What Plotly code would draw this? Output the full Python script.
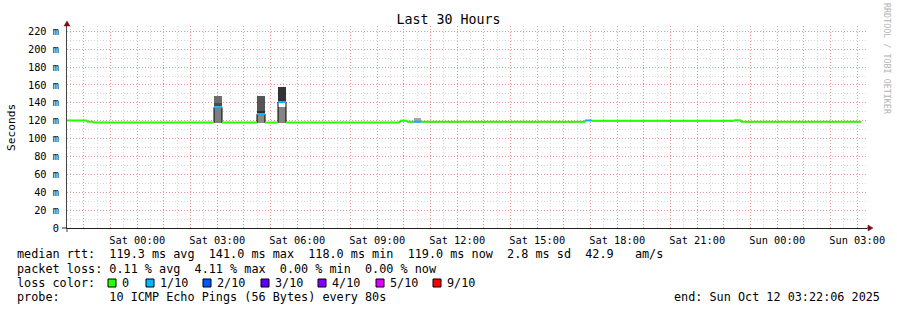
import plotly.graph_objects as go
import pandas as pd

# ---------------- data ----------------
seg_start = ["2025-10-10 21:22:06", "2025-10-10 22:07:06", "2025-10-10 22:20:36",
             "2025-10-11 02:52:51", "2025-10-11 03:10:51", "2025-10-11 04:29:36",
             "2025-10-11 04:47:36", "2025-10-11 05:16:51", "2025-10-11 05:34:51",
             "2025-10-11 09:51:21", "2025-10-11 10:07:06", "2025-10-11 10:22:51",
             "2025-10-11 10:38:36", "2025-10-11 16:47:36", "2025-10-11 17:03:21",
             "2025-10-11 22:22:51", "2025-10-11 22:38:36"]
last_sample_end = "2025-10-12 03:08:36"
median_ms = [120.3, 119.0, 118.0, 135.1, 118.0, 127.5, 118.0, 141.0, 118.0,
             120.1, 118.9, 118.9, 118.9, 120.3, 120.0, 120.4, 119.0]
loss_tenths = [0, 0, 0, 1, 0, 1, 0, 1, 0, 0, 0, 1, 0, 1, 0, 0, 0]

smoke_start = ["2025-10-11 02:52:51", "2025-10-11 02:52:51", "2025-10-11 02:52:51",
               "2025-10-11 04:29:36", "2025-10-11 04:29:36", "2025-10-11 04:29:36",
               "2025-10-11 05:16:51", "2025-10-11 05:16:51", "2025-10-11 10:22:51"]
smoke_end = ["2025-10-11 03:10:51", "2025-10-11 03:10:51", "2025-10-11 03:10:51",
             "2025-10-11 04:47:36", "2025-10-11 04:47:36", "2025-10-11 04:47:36",
             "2025-10-11 05:34:51", "2025-10-11 05:34:51", "2025-10-11 10:38:36"]
smoke_low = [118.0, 136.5, 139.5, 118.0, 128.5, 131.0, 118.0, 142.4, 119.6]
smoke_high = [134.0, 139.5, 148.0, 126.5, 131.0, 148.0, 135.6, 158.0, 122.6]
smoke_shade = ["#7f7f7f", "#4a4a4a", "#6e6e6e", "#8a8a8a", "#2f2f2f", "#555555",
               "#858585", "#333333", "#a3a3a3"]

loss_levels = [0, 1, 2, 3, 4, 5, 9]
loss_labels = ["0", "1/10", "2/10", "3/10", "4/10", "5/10", "9/10"]
loss_colors = ["#26ff00", "#00b8ff", "#0059ff", "#5e00ff", "#7e00ff", "#dd00ff", "#ff0000"]

y_tickvals = [0, 20, 40, 60, 80, 100, 120, 140, 160, 180, 200, 220]
y_ticktext = ["0", "20 m", "40 m", "60 m", "80 m", "100 m", "120 m", "140 m",
              "160 m", "180 m", "200 m", "220 m"]

x_start = "2025-10-10 21:22:06"
x_end = "2025-10-12 03:22:06"

legend_lines = [
    "median rtt:  119.3 ms avg  141.0 ms max  118.0 ms min  119.0 ms now  2.8 ms sd  42.9   am/s",
    "packet loss: 0.11 % avg  4.11 % max  0.00 % min  0.00 % now",
    "loss color:",
    "probe:       10 ICMP Echo Pings (56 Bytes) every 80s",
]
end_text = "end: Sun Oct 12 03:22:06 2025"

# ---------------- figure ----------------
FONT = "DejaVu Sans Mono"
L, R, T, B = 67, 30, 26, 82
W, H = 897, 310
PW, PH = W - L - R, H - T - B


def px_x(px):
    return (px - L) / PW


def px_y(py):
    return (H - B - py) / PH


seg_end = seg_start[1:] + [last_sample_end]

fig = go.Figure()

# smoke
s0 = pd.to_datetime(pd.Series(smoke_start))
s1 = pd.to_datetime(pd.Series(smoke_end))
dur = ((s1 - s0).dt.total_seconds() * 1000).tolist()
fig.add_trace(go.Bar(
    x=smoke_start, y=[h - l for h, l in zip(smoke_high, smoke_low)], base=smoke_low,
    width=dur, offset=[0] * len(dur),
    marker=dict(color=smoke_shade, line=dict(width=0)), showlegend=False, hoverinfo="skip"))

# black step outline of median
fig.add_trace(go.Scatter(
    x=seg_start + [last_sample_end], y=median_ms + [median_ms[-1]],
    mode="lines", line=dict(color="black", width=1, shape="hv"),
    showlegend=False, hoverinfo="skip"))

# loss-colored median segments
for lvl, col in zip(loss_levels, loss_colors):
    xs, ys = [], []
    for a, b, m, ls in zip(seg_start, seg_end, median_ms, loss_tenths):
        if ls == lvl:
            xs += [a, b, None]
            ys += [m, m, None]
    if xs:
        fig.add_trace(go.Scatter(x=xs, y=ys, mode="lines",
                                 line=dict(color=col, width=2),
                                 showlegend=False, hoverinfo="skip"))

# x ticks: hourly gridlines, labels every 3 h
hours = pd.date_range("2025-10-10 22:00", "2025-10-12 03:00", freq="h")
x_tickvals = [h.strftime("%Y-%m-%d %H:%M:%S") for h in hours]
x_ticktext = [h.strftime("%a %H:%M") if h.hour % 3 == 0 else "" for h in hours]

RED = "rgba(255,0,0,0.30)"
GRAY = "rgba(150,150,150,0.38)"
DASH = "1px,2px"

fig.update_layout(
    width=W, height=H,
    margin=dict(l=L, r=R, t=T, b=B, pad=0),
    paper_bgcolor="white", plot_bgcolor="white",
    barmode="overlay", bargap=0,
    showlegend=False,
    title=dict(text="Last 30 Hours", x=0.5, xanchor="center", xref="container",
               y=1 - 19 / H, yanchor="middle", yref="container",
               font=dict(family=FONT, size=13.3, color="black")),
    xaxis=dict(type="date", range=[x_start, x_end], tickmode="array",
               tickvals=x_tickvals, ticktext=x_ticktext, ticks="",
               ticklabelstandoff=3,
               showgrid=True, gridcolor=RED, griddash=DASH, gridwidth=1,
               minor=dict(dtick=1800000, tick0="2025-10-10 21:30:00", showgrid=True,
                          gridcolor=GRAY, griddash=DASH, gridwidth=1, ticks=""),
               showline=True, linecolor="#222", linewidth=1, zeroline=False,
               tickfont=dict(family=FONT, size=10.3, color="black"),
               fixedrange=True),
    yaxis=dict(range=[0, 226], tickmode="array", tickvals=y_tickvals, ticktext=y_ticktext,
               ticks="", ticklabelstandoff=5,
               showgrid=True, gridcolor=RED, griddash=DASH, gridwidth=1,
               minor=dict(dtick=10, tick0=0, showgrid=True, gridcolor=GRAY,
                          griddash=DASH, gridwidth=1, ticks=""),
               showline=True, linecolor="#444", linewidth=1, zeroline=False,
               tickfont=dict(family=FONT, size=10.3, color="black"),
               fixedrange=True),
)

annotations = []
# y unit label
annotations.append(dict(text="Seconds", xref="paper", yref="paper", x=px_x(11),
                        y=px_y(127), xanchor="center", yanchor="middle", textangle=-90,
                        showarrow=False, font=dict(family=FONT, size=11.2, color="black")))
# watermark
annotations.append(dict(text="RRDTOOL / TOBI OETIKER", xref="paper", yref="paper",
                        x=px_x(887), y=px_y(59), xanchor="center", yanchor="middle",
                        textangle=90, showarrow=False,
                        font=dict(family=FONT, size=8.4, color="#b4b4b4")))
# legend text lines
for txt, py in zip(legend_lines, [254.5, 268.5, 282.5, 296.5]):
    annotations.append(dict(text=txt.replace(" ", "\u00a0"), xref="paper", yref="paper",
                            x=px_x(16), y=px_y(py), xanchor="left", yanchor="middle",
                            showarrow=False, borderpad=0,
                            font=dict(family=FONT, size=11.8, color="black")))
annotations.append(dict(text=end_text.replace(" ", "\u00a0"), xref="paper", yref="paper",
                        x=px_x(881), y=px_y(296.5), xanchor="right", yanchor="middle",
                        showarrow=False, borderpad=0,
                        font=dict(family=FONT, size=11.8, color="black")))

shapes = []
square_px = [108, 146, 203, 261, 318, 376, 433]
for sx, lab, col in zip(square_px, loss_labels, loss_colors):
    shapes.append(dict(type="rect", xref="paper", yref="paper",
                       xsizemode="pixel", ysizemode="pixel",
                       xanchor=0, yanchor=0,
                       x0=sx - L, x1=sx - L + 8, y0=-(287 - (H - B)), y1=-(279 - (H - B)),
                       fillcolor=col, line=dict(color="black", width=1), layer="above"))
    annotations.append(dict(text=lab, xref="paper", yref="paper", x=px_x(sx + 13),
                            y=px_y(282.5), xanchor="left", yanchor="middle",
                            showarrow=False, borderpad=0,
                            font=dict(family=FONT, size=11.8, color="black")))

ARROW = "#7f1010"
# y axis arrow
shapes.append(dict(type="path", xref="paper", yref="paper", xsizemode="pixel",
                   ysizemode="pixel", xanchor=0, yanchor=1,
                   path="M -3,0 L 3,0 L 0,5 Z", fillcolor=ARROW,
                   line=dict(color=ARROW, width=0.5), layer="above"))
# x axis arrow
shapes.append(dict(type="path", xref="paper", yref="paper", xsizemode="pixel",
                   ysizemode="pixel", xanchor=1, yanchor=0,
                   path="M 1,-3 L 1,3 L 6,0 Z", fillcolor=ARROW,
                   line=dict(color=ARROW, width=0.5), layer="above"))
# axis overhangs
shapes.append(dict(type="line", xref="paper", yref="paper", xsizemode="pixel",
                   ysizemode="pixel", xanchor=0, yanchor=0, x0=-5, x1=0, y0=0, y1=0,
                   line=dict(color="#222", width=1), layer="above"))
shapes.append(dict(type="line", xref="paper", yref="paper", xsizemode="pixel",
                   ysizemode="pixel", xanchor=0, yanchor=0, x0=0, x1=0, y0=-4, y1=0,
                   line=dict(color="#444", width=1), layer="above"))
shapes.append(dict(type="line", xref="paper", yref="paper", xsizemode="pixel",
                   ysizemode="pixel", xanchor=1, yanchor=0, x0=0, x1=2, y0=0, y1=0,
                   line=dict(color="#222", width=1), layer="above"))

fig.update_layout(annotations=annotations, shapes=shapes)

fig.write_html("out.html")
